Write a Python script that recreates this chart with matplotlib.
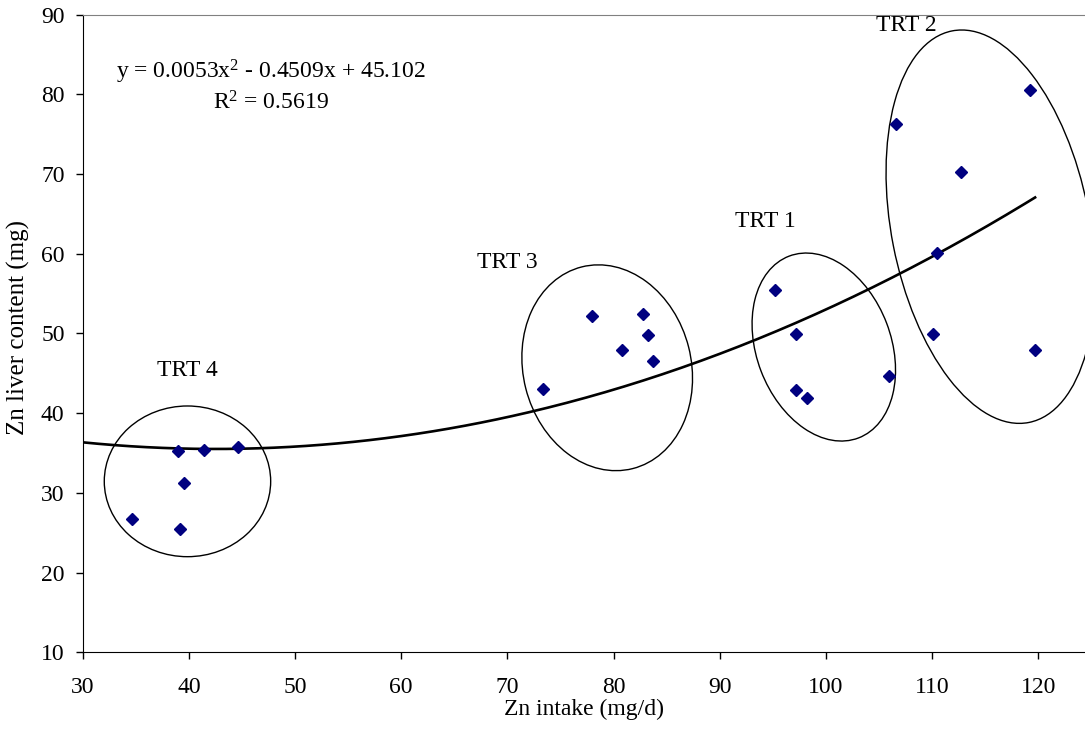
import numpy as np
import matplotlib
matplotlib.use("Agg")
import matplotlib.pyplot as plt
from matplotlib.patches import Ellipse
from matplotlib.transforms import ScaledTranslation

plt.rcParams['font.family'] = ['Liberation Serif', 'DejaVu Serif']
plt.rcParams['mathtext.default'] = 'regular'

# Zn intake (mg/d) and liver Zn (mg) per animal, by treatment
trt4_x = [34.6, 39.2, 39.5, 39.0, 41.4, 44.6]
trt4_y = [26.7, 25.5, 31.3, 35.3, 35.4, 35.7]
trt3_x = [73.4, 78.0, 80.8, 82.8, 83.2, 83.7]
trt3_y = [43.0, 52.2, 47.9, 52.4, 49.8, 46.5]
trt1_x = [95.2, 97.2, 97.2, 98.2, 105.9]
trt1_y = [55.4, 49.9, 42.9, 41.9, 44.7]
trt2_x = [106.6, 119.2, 112.7, 110.5, 110.1, 119.7]
trt2_y = [76.3, 80.6, 70.3, 60.1, 49.9, 47.9]

# quadratic trendline coefficients
coef = [0.0053, -0.4509, 45.102]
r2 = 0.5619

# group outlines: centre (data), width/height (inches), angle (deg)
groups = ["TRT 4", "TRT 3", "TRT 1", "TRT 2"]
ell_center = [(39.87, 31.45), (79.4, 45.7), (99.8, 48.3), (115.5, 63.4)]
ell_w = [1.664, 2.08, 1.946, 3.99]
ell_h = [1.507, 1.68, 1.344, 1.98]
ell_angle = [0, 104.2, 110.9, 101.1]
label_pos = [(39.9, 45.3), (70.0, 58.9), (94.3, 64.0), (107.6, 88.6)]

all_x = trt4_x + trt3_x + trt1_x + trt2_x
all_y = trt4_y + trt3_y + trt1_y + trt2_y

fig = plt.figure(figsize=(10.85, 7.42), dpi=100)
ax = fig.add_axes([0.0762, 0.1209, 0.9238, 0.8593])

ax.plot(all_x, all_y, linestyle='none', marker='D', ms=6.3,
        color='#000080', zorder=3)

xs = np.linspace(30, max(all_x), 300)
ax.plot(xs, np.polyval(coef, xs), color='black', lw=1.9, zorder=2)

for c, w, h, a in zip(ell_center, ell_w, ell_h, ell_angle):
    tr = fig.dpi_scale_trans + ScaledTranslation(c[0], c[1], ax.transData)
    e = Ellipse((0, 0), w, h, angle=a, transform=tr, fill=False,
                edgecolor='black', lw=1.0, clip_on=False, zorder=2)
    ax.add_patch(e)

for name, (lx, ly) in zip(groups, label_pos):
    ax.text(lx, ly, name, ha='center', va='center', fontsize=17)

ax.text(47.7, 82.85, "y = 0.0053x$^{2}$ - 0.4509x + 45.102",
        ha='center', va='center', fontsize=17)
ax.text(47.7, 78.9, "R$^{2}$ = %.4f" % r2, ha='center', va='center',
        fontsize=17)

ax.set_xlim(30, 124.4)
ax.set_ylim(10, 90)
ax.set_xticks(range(30, 121, 10))
ax.set_yticks(range(10, 91, 10))
ax.tick_params(axis='both', labelsize=17, direction='out', length=5,
               width=1, color='black')
ax.tick_params(axis='x', pad=13)
ax.tick_params(axis='y', pad=8)

ax.spines['right'].set_visible(False)
ax.spines['top'].set_color('#808080')
ax.spines['left'].set_color('black')
ax.spines['bottom'].set_color('black')

ax.set_xlabel("Zn intake (mg/d)", fontsize=17)
ax.set_ylabel("Zn liver content (mg)", fontsize=18)
ax.xaxis.set_label_coords(0.5, -0.073)
ax.yaxis.set_label_coords(-0.053, 0.51)

fig.savefig("out.png", dpi=100)
